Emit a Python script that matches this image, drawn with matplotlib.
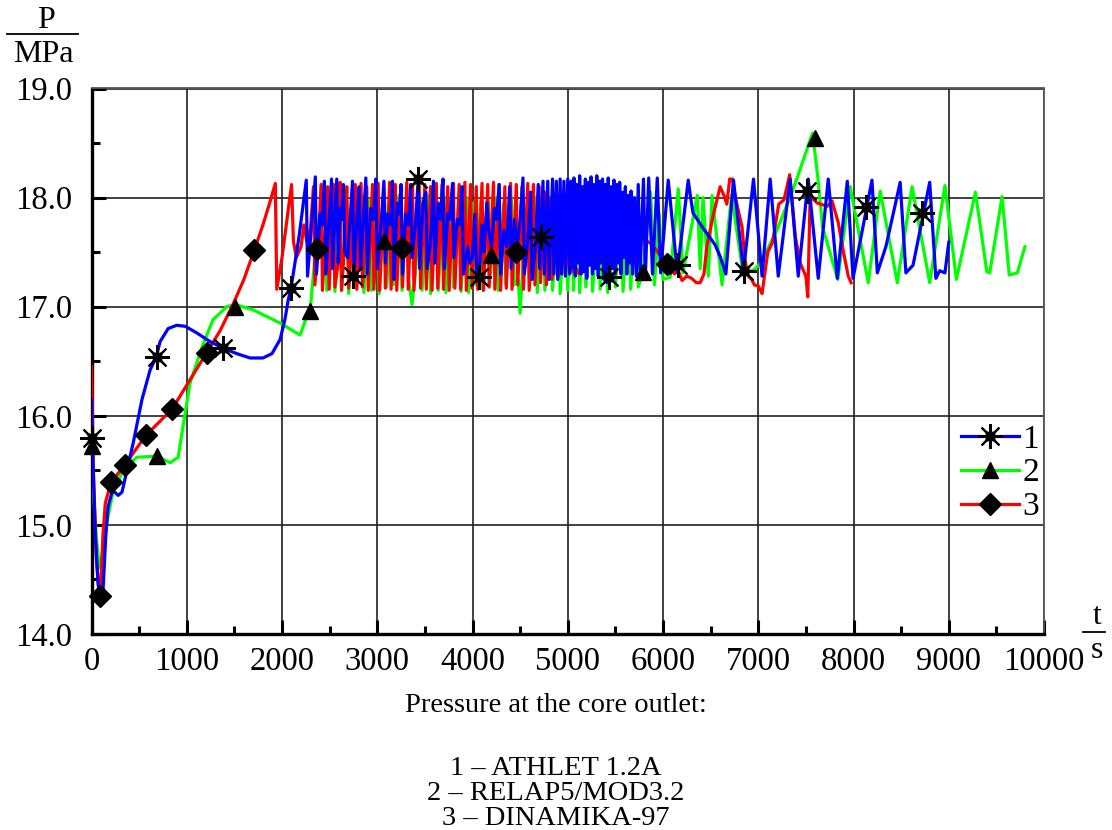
import matplotlib.pyplot as plt
from matplotlib.lines import Line2D
from matplotlib.ticker import MultipleLocator, FormatStrFormatter

plt.rcParams['font.family'] = ['Liberation Serif', 'DejaVu Serif']

# 1 - ATHLET 1.2A : (t, P)
athlet = [
    (0, 16.15), (15, 15.6), (40, 14.9), (70, 14.45), (95, 14.33), (120, 14.38),
    (150, 14.9), (175, 15.17), (215, 15.30), (245, 15.30), (280, 15.27), (320, 15.30),
    (370, 15.49), (440, 15.76), (530, 16.15), (615, 16.42), (680, 16.54), (720, 16.68),
    (805, 16.80), (895, 16.83), (985, 16.82), (1105, 16.76), (1245, 16.68), (1380, 16.62),
    (1525, 16.57), (1665, 16.53), (1800, 16.53), (1895, 16.57), (1980, 16.70), (2030, 16.88),
    (2065, 17.06), (2095, 17.17), (2180, 17.65), (2255, 18.16),
    (2268, 17.28), (2350, 18.19), (2362, 17.30), (2400, 17.85), (2420, 17.75), (2445, 18.15),
    (2460, 17.30), (2520, 18.17), (2530, 17.35), (2575, 18.17), (2590, 17.40), (2610, 17.90),
    (2625, 17.80), (2645, 18.12), (2660, 17.50), (2690, 17.45), (2740, 18.15), (2755, 17.30),
    (2790, 17.85), (2810, 18.10), (2825, 17.35), (2880, 18.18), (2895, 17.30), (2930, 17.90),
    (2960, 17.80), (2985, 18.17), (3000, 17.35), (3040, 17.75), (3070, 18.15), (3085, 17.40),
    (3110, 17.85), (3140, 17.75), (3160, 18.15), (3175, 17.25), (3210, 17.95), (3230, 17.85),
    (3250, 18.12), (3265, 17.30), (3300, 17.85), (3330, 17.75), (3350, 18.12), (3365, 17.45),
    (3400, 17.75), (3430, 18.17), (3445, 17.35), (3480, 17.95), (3510, 18.05), (3525, 17.35),
    (3560, 17.60), (3590, 18.15), (3605, 17.40), (3640, 17.95), (3665, 17.80), (3690, 18.17),
    (3705, 17.35), (3740, 17.85), (3760, 17.80), (3790, 18.13), (3805, 17.45), (3840, 17.80),
    (3870, 17.75), (3890, 18.10), (3905, 17.30), (3950, 17.55), (3970, 17.40), (4000, 17.45),
    (4025, 17.85), (4045, 17.30), (4070, 17.27), (4100, 17.75), (4120, 17.50), (4150, 17.95),
    (4170, 17.70), (4200, 17.55), (4230, 17.90), (4250, 17.80), (4280, 18.12), (4295, 17.30),
    (4330, 17.70), (4360, 17.55), (4390, 18.10), (4405, 17.35), (4440, 17.80), (4470, 17.55),
    (4500, 17.80), (4530, 18.18), (4545, 17.30), (4580, 17.60), (4610, 18.05), (4625, 17.25),
    (4660, 17.55), (4690, 18.12), (4705, 17.35), (4740, 18.15), (4755, 17.30), (4790, 18.15),
    (4805, 17.25), (4840, 18.17), (4855, 17.30), (4880, 18.15), (4895, 17.25), (4920, 18.17),
    (4935, 17.30), (4960, 18.15), (4975, 17.28), (5000, 18.17),
    (5020, 17.30), (5035, 18.15), (5050, 17.35), (5065, 18.18), (5080, 17.28), (5095, 18.12),
    (5110, 17.40), (5125, 18.20), (5140, 17.30), (5155, 18.10), (5170, 17.32), (5185, 18.17),
    (5200, 17.26), (5215, 18.14), (5230, 17.38), (5245, 18.19), (5260, 17.30), (5275, 18.12),
    (5290, 17.35), (5305, 18.20), (5320, 17.28), (5335, 18.15), (5350, 17.40), (5365, 18.17),
    (5380, 17.25), (5395, 18.12), (5410, 17.22), (5425, 18.18), (5440, 17.27), (5455, 18.10),
    (5470, 17.35), (5485, 18.16), (5500, 17.30), (5515, 18.12), (5530, 17.40), (5545, 18.14),
    (5560, 17.30), (5575, 18.05), (5590, 17.45), (5605, 18.10), (5620, 17.30), (5635, 18.02),
    (5650, 17.40), (5665, 18.06), (5680, 17.30), (5700, 18.00), (5720, 17.28), (5740, 18.12),
    (5760, 17.30), (5795, 18.17), (5815, 17.28), (5850, 18.18), (5890, 17.30), (5940, 18.18),
    (5975, 17.31), (6055, 18.16), (6150, 17.32), (6265, 18.16), (6290, 18.00), (6315, 17.86),
    (6420, 17.72), (6545, 17.57), (6600, 17.46), (6660, 17.30), (6740, 18.16), (6845, 17.32),
    (6950, 18.17), (7040, 17.28), (7125, 18.17), (7210, 17.28), (7335, 18.17), (7420, 17.28),
    (7525, 18.17), (7630, 17.26), (7735, 18.17), (7830, 17.26), (7935, 18.15), (7995, 17.26),
    (8194, 18.16), (8250, 17.31), (8340, 17.55), (8490, 18.14), (8550, 17.31), (8625, 17.38),
    (8800, 18.14), (8865, 17.26), (8905, 17.33), (8960, 17.31), (9000, 17.59),
]

# 2 - RELAP5/MOD3.2
relap = [
    (0, 15.72), (20, 15.3), (50, 14.9), (80, 14.61), (100, 14.65), (140, 14.93),
    (225, 15.30), (330, 15.50), (475, 15.62), (690, 15.63), (825, 15.57), (910, 15.62),
    (960, 15.90), (1035, 16.30), (1160, 16.63), (1275, 16.88), (1420, 17.00), (1510, 17.02),
    (1700, 16.97), (1980, 16.85), (2190, 16.74), (2260, 16.91), (2295, 16.96),
    (2330, 17.30), (2380, 17.75), (2420, 17.95), (2450, 18.02), (2470, 17.15), (2540, 18.07),
    (2555, 17.14), (2610, 18.00), (2625, 17.15), (2680, 17.95), (2700, 17.12), (2760, 18.00),
    (2780, 17.20), (2840, 18.02), (2860, 17.13), (2920, 17.98), (2940, 17.15), (3000, 18.03),
    (3020, 17.12), (3080, 17.95), (3100, 17.18), (3150, 18.00), (3170, 17.20), (3230, 18.02),
    (3260, 17.15), (3300, 17.90), (3330, 17.25), (3365, 17.02), (3400, 17.30), (3450, 18.00),
    (3470, 17.15), (3540, 18.02), (3560, 17.12), (3620, 17.98), (3640, 17.15), (3700, 18.00),
    (3720, 17.13), (3780, 17.98), (3800, 17.18), (3860, 18.02), (3880, 17.14), (3940, 18.00),
    (3960, 17.13), (4010, 17.95), (4030, 17.20), (4090, 18.00), (4110, 17.15), (4170, 17.95),
    (4190, 17.30), (4250, 18.00), (4270, 17.15), (4330, 17.95), (4350, 17.20), (4410, 18.00),
    (4440, 17.20), (4480, 17.25), (4500, 16.94), (4530, 17.40), (4580, 17.98), (4600, 17.18),
    (4660, 18.00), (4680, 17.13), (4740, 17.98), (4760, 17.15), (4820, 18.00), (4840, 17.15),
    (4900, 17.98), (4920, 17.12), (4980, 17.95), (5000, 17.15), (5040, 17.95), (5060, 17.15),
    (5100, 17.98), (5125, 17.13), (5170, 17.95), (5190, 17.18), (5240, 18.00), (5260, 17.14),
    (5320, 17.95), (5340, 17.16), (5400, 17.98), (5420, 17.13), (5480, 17.95), (5500, 17.18),
    (5560, 18.00), (5580, 17.14), (5640, 17.95), (5660, 17.16), (5720, 17.98), (5740, 17.18),
    (5790, 17.32), (5870, 18.05), (5910, 17.20), (5960, 17.85), (6000, 17.25), (6075, 17.27),
    (6160, 18.08), (6210, 17.31), (6360, 18.02), (6390, 17.35), (6420, 18.00), (6475, 17.28),
    (6515, 18.02), (6620, 17.20), (6720, 18.02), (6840, 17.31), (6960, 17.34), (7025, 17.40),
    (7200, 17.71), (7355, 18.05), (7440, 18.26), (7545, 18.53), (7570, 18.59), (7625, 18.19),
    (7675, 17.73), (7835, 17.25), (7965, 18.10), (8155, 17.22), (8280, 18.06), (8460, 17.22),
    (8615, 18.10), (8800, 17.22), (8960, 18.11), (9080, 17.25), (9280, 18.05), (9400, 17.32),
    (9430, 17.31), (9560, 18.01), (9635, 17.29), (9720, 17.31), (9800, 17.55),
]

# 3 - DINAMIKA-97
dinamika = [
    (0, 16.45), (20, 15.5), (50, 14.7), (80, 14.38), (95, 14.40), (120, 14.9),
    (145, 15.2), (205, 15.39), (350, 15.55), (570, 15.82), (845, 16.06), (1000, 16.28),
    (1210, 16.58), (1350, 16.78), (1490, 17.03), (1600, 17.25), (1710, 17.52), (1800, 17.75),
    (1870, 17.95), (1930, 18.13), (1945, 17.16), (2000, 17.45), (2060, 17.85), (2100, 18.12),
    (2120, 17.60), (2150, 17.45), (2200, 17.55), (2230, 17.75), (2260, 17.60), (2300, 17.72),
    (2330, 18.10), (2345, 17.20), (2380, 17.53), (2410, 18.12), (2425, 17.15), (2460, 17.80),
    (2480, 18.10), (2495, 17.16), (2540, 18.12), (2555, 17.18), (2590, 17.40), (2610, 18.14),
    (2625, 17.15), (2660, 17.60), (2680, 18.10), (2700, 17.17), (2740, 17.70), (2770, 18.12),
    (2785, 17.16), (2830, 18.13), (2845, 17.18), (2890, 18.10), (2905, 17.15), (2950, 18.12),
    (2965, 17.16), (3010, 18.13), (3025, 17.15), (3070, 18.10), (3085, 17.17), (3130, 18.14),
    (3145, 17.16), (3190, 18.12), (3205, 17.15), (3250, 18.10), (3265, 17.18), (3310, 18.14),
    (3325, 17.16), (3370, 18.12), (3385, 17.15), (3440, 18.13), (3455, 17.17), (3500, 18.12),
    (3515, 17.16), (3560, 18.10), (3575, 17.15), (3620, 18.13), (3635, 17.17), (3680, 18.12),
    (3695, 17.16), (3740, 18.10), (3755, 17.15), (3800, 18.13), (3815, 17.17), (3860, 18.12),
    (3875, 17.16), (3920, 18.14), (3935, 17.15), (3980, 18.12), (3995, 17.17), (4040, 18.10),
    (4055, 17.16), (4100, 18.13), (4115, 17.15), (4160, 18.12), (4175, 17.18), (4220, 18.14),
    (4235, 17.16), (4280, 18.12), (4295, 17.15), (4340, 18.10), (4355, 17.17), (4400, 18.13),
    (4415, 17.16), (4460, 18.12), (4475, 17.20), (4520, 18.10), (4535, 17.16), (4580, 18.13),
    (4595, 17.15), (4640, 18.12), (4655, 17.20), (4700, 18.10), (4715, 17.22), (4760, 18.05),
    (4775, 17.20), (4820, 18.00), (4835, 17.25), (4880, 17.90), (4900, 17.28), (4960, 17.85),
    (4975, 17.30), (5030, 17.80), (5050, 17.32), (5090, 17.35), (5120, 17.30), (5160, 17.33),
    (5200, 17.40), (5250, 17.70), (5300, 17.50), (5350, 17.80), (5400, 17.45), (5450, 17.75),
    (5500, 17.50), (5550, 17.70), (5600, 17.55), (5650, 17.65), (5700, 17.60), (5800, 17.62),
    (5870, 17.58), (5930, 17.52), (5990, 17.45), (6045, 17.39), (6080, 17.36), (6120, 17.30),
    (6160, 17.33), (6200, 17.24), (6250, 17.28), (6300, 17.26), (6350, 17.22), (6390, 17.22),
    (6430, 17.30), (6460, 17.55), (6525, 17.83), (6600, 18.10), (6640, 18.02), (6670, 17.94),
    (6700, 18.17), (6730, 18.17), (6760, 18.00), (6830, 17.73), (6860, 17.43), (6895, 17.28),
    (6930, 17.25), (6960, 17.20), (7000, 17.19), (7040, 17.12), (7100, 17.50), (7150, 17.59),
    (7215, 17.94), (7270, 17.98), (7330, 18.21), (7390, 17.64), (7440, 17.40), (7500, 17.28),
    (7520, 17.09), (7545, 18.01), (7620, 17.95), (7725, 17.92), (7775, 17.97), (7840, 17.77),
    (7895, 17.50), (7945, 17.28), (7975, 17.22),
]

athlet_marks = [(0, 15.80), (690, 16.54), (1380, 16.62), (2095, 17.17), (2745, 17.28),
                (3430, 18.17), (4070, 17.27), (4720, 17.64), (5435, 17.27), (6160, 17.38),
                (6850, 17.33), (7515, 18.06), (8130, 17.91), (8720, 17.86)]
relap_marks = [(0, 15.72), (690, 15.63), (1510, 17.00), (2295, 16.96), (3070, 17.60),
               (4190, 17.47), (5790, 17.32), (7595, 18.55)]
dinamika_marks = [(90, 14.35), (205, 15.39), (350, 15.55), (570, 15.82), (845, 16.06),
                  (1210, 16.58), (1710, 17.52), (2370, 17.53), (3260, 17.54), (4460, 17.50),
                  (6045, 17.39)]

labels = ['1', '2', '3']
caption = ['Pressure at the core outlet:', '1 \u2013 ATHLET 1.2A',
           '2 \u2013 RELAP5/MOD3.2', '3 \u2013 DINAMIKA-97']

W, H = 1112, 830
fig = plt.figure(figsize=(W / 100, H / 100), dpi=100)
ax = fig.add_axes([91.5 / W, 1 - 634 / H, (1044 - 91.5) / W, (634 - 88.5) / H])

lw = 2.3
star = (8, 2, 0)
mk = dict(color='none', mfc='k', mec='k', clip_on=False, zorder=6)

for data, col in [(relap, '#00ff00'), (dinamika, '#ff0000'), (athlet, '#0000ff')]:
    t, p = zip(*data)
    ax.plot(t, p, color=col, lw=lw, zorder=3)

t, p = zip(*relap_marks)
ax.plot(t, p, marker='^', ms=12, ls='none', **mk)
t, p = zip(*dinamika_marks)
ax.plot(t, p, marker='D', ms=11, ls='none', **mk)
t, p = zip(*athlet_marks)
ax.plot(t, p, marker=star, ms=18, mew=1.5, ls='none', **mk)
ax.plot(t, p, marker=(8, 1, 0), ms=11, ls='none', **mk)

ax.set_xlim(0, 10000)
ax.set_ylim(14, 19)
ax.xaxis.set_major_locator(MultipleLocator(1000))
ax.xaxis.set_minor_locator(MultipleLocator(500))
ax.yaxis.set_major_locator(MultipleLocator(1.0))
ax.yaxis.set_minor_locator(MultipleLocator(0.5))
ax.yaxis.set_major_formatter(FormatStrFormatter('%.1f'))
ax.grid(which='major', color='#202020', lw=1.2, zorder=1)
ax.tick_params(which='major', direction='in', length=10, width=2.2, labelsize=23.5)
ax.tick_params(which='minor', direction='in', length=6, width=2.2)
ax.tick_params(axis='y', pad=14)
ax.tick_params(axis='x', pad=9)
for side in ['left', 'bottom']:
    ax.spines[side].set_linewidth(2.4)
    ax.spines[side].set_color('black')
for side in ['top', 'right']:
    ax.spines[side].set_linewidth(1.3)
    ax.spines[side].set_color('#555555')

h1 = (Line2D([], [], color='#0000ff', lw=lw),
      Line2D([], [], ls='none', marker=star, ms=18, mew=1.5, mfc='k', mec='k'),
      Line2D([], [], ls='none', marker=(8, 1, 0), ms=11, mfc='k', mec='k'))
h2 = Line2D([], [], color='#00ff00', lw=lw, marker='^', ms=12, mfc='k', mec='k')
h3 = Line2D([], [], color='#ff0000', lw=lw, marker='D', ms=11, mfc='k', mec='k')
fig.legend([h1, h2, h3], labels, loc='center left', bbox_to_anchor=(0.849, 0.43),
           frameon=False, fontsize=24, handlelength=1.75, handletextpad=0.1,
           labelspacing=0.1, borderpad=0)

# axis captions as fractions
fig.text(46 / W, 1 - 20 / H, 'P', fontsize=23, ha='center', va='center')
fig.add_artist(Line2D([7 / W, 78 / W], [1 - 34 / H, 1 - 34 / H], color='k', lw=1.3))
fig.text(43 / W, 1 - 55 / H, 'MPa', fontsize=23, ha='center', va='center')
fig.text(1097 / W, 1 - 617 / H, 't', fontsize=23, ha='center', va='center')
fig.add_artist(Line2D([1083 / W, 1105 / W], [1 - 632 / H, 1 - 632 / H], color='k', lw=1.3))
fig.text(1097 / W, 1 - 650 / H, 's', fontsize=23, ha='center', va='center')

for txt, y in zip(caption, [705, 768, 793, 818]):
    fig.text(556 / W, 1 - y / H, txt, fontsize=20.5, ha='center', va='center')

fig.savefig('out.png', dpi=100)
